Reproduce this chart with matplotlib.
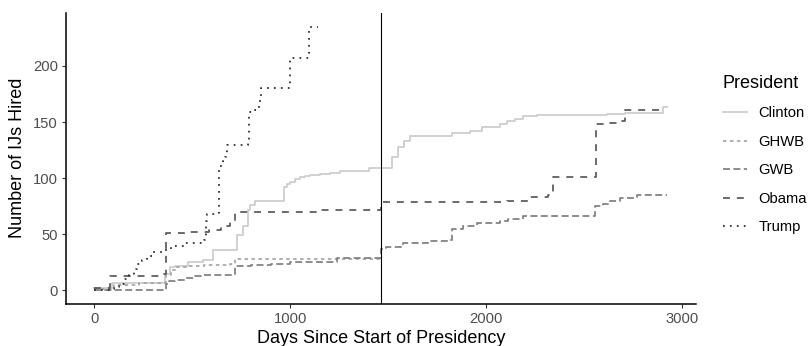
import matplotlib
matplotlib.use("Agg")
import matplotlib.pyplot as plt

plt.rcParams['font.family'] = ['Liberation Sans', 'DejaVu Sans']

# Cumulative immigration judges hired, by days since inauguration
clinton_days = [0, 90, 361, 386, 412, 480, 556, 607, 730, 760, 783, 795, 820, 969, 981, 998,
                1024, 1049, 1075, 1100, 1152, 1202, 1253, 1403, 1517, 1551, 1580, 1611, 1823,
                1917, 1976, 2070, 2104, 2146, 2189, 2257, 2614, 2708, 2903, 2922]
clinton_hired = [2, 7, 15, 21, 22, 25, 27, 36, 49, 57, 72, 76, 80, 92, 95, 97,
                 99, 101, 102, 103, 104, 105, 106, 109, 119, 128, 133, 138, 140,
                 142, 146, 148, 151, 153, 155, 156, 157, 158, 163, 163]

ghwb_days = [0, 100, 230, 367, 390, 420, 480, 560, 690, 717, 1461]
ghwb_hired = [1, 5, 7, 14, 18, 21, 22, 23, 24, 28, 28]

gwb_days = [0, 367, 380, 410, 461, 512, 546, 717, 800, 900, 1000, 1240, 1461, 1490, 1577,
            1700, 1806, 1823, 1883, 1951, 2070, 2112, 2189, 2555, 2597, 2631, 2682, 2767, 2922]
gwb_hired = [0, 6, 8, 9, 11, 13, 14, 22, 23, 24, 25, 29, 37, 39, 42,
             44, 45, 55, 57, 60, 62, 64, 66, 75, 77, 80, 82, 85, 85]

obama_days = [0, 80, 333, 367, 478, 586, 648, 690, 717, 1150, 1461, 2104, 2223, 2316, 2340,
              2557, 2631, 2691, 2708, 2897]
obama_hired = [2, 13, 15, 51, 52, 54, 57, 61, 70, 72, 79, 80, 83, 85, 101,
               148, 149, 151, 161, 161]

trump_days = [0, 85, 100, 125, 150, 175, 200, 220, 245, 270, 300, 360, 390, 455, 560, 571,
              575, 638, 655, 667, 675, 786, 790, 811, 840, 846, 850, 1000, 1095, 1143]
trump_hired = [0, 1, 3, 6, 10, 14, 19, 24, 27, 31, 34, 36, 40, 42, 45, 62,
               68, 111, 115, 119, 130, 133, 159, 161, 166, 172, 180, 207, 235, 235]

presidents = ["Clinton", "GHWB", "GWB", "Obama", "Trump"]
first_term_end = 1461

series = {
    "Clinton": (clinton_days, clinton_hired),
    "GHWB": (ghwb_days, ghwb_hired),
    "GWB": (gwb_days, gwb_hired),
    "Obama": (obama_days, obama_hired),
    "Trump": (trump_days, trump_hired),
}
colors = {"Clinton": "#CCCCCC", "GHWB": "#A6A6A6", "GWB": "#7F7F7F",
          "Obama": "#595959", "Trump": "#262626"}
styles = {"Clinton": "-", "GHWB": (0, (2, 2)), "GWB": (0, (4, 2)),
          "Obama": (0, (4, 4)), "Trump": (0, (1, 3))}

fig = plt.figure(figsize=(8.08, 3.46), dpi=100)
ax = fig.add_axes([65.7 / 808, 1 - 303.7 / 346, (695.7 - 65.7) / 808, (303.7 - 12.7) / 346])

lw = 1.25
for name in presidents:
    d, h = series[name]
    ax.step(d, h, where="post", color=colors[name], linestyle=styles[name],
            linewidth=lw, label=name)

ax.axvline(first_term_end, color="black", linewidth=0.8)

# ggplot-style 5% expansion around the data range
ax.set_xlim(-146, 3068)
ax.set_ylim(-11.8, 247.4)
ax.set_xticks([0, 1000, 2000, 3000])
ax.set_yticks([0, 50, 100, 150, 200])

for s in ["top", "right"]:
    ax.spines[s].set_visible(False)
for s in ["left", "bottom"]:
    ax.spines[s].set_linewidth(1.1)
    ax.spines[s].set_color("black")
ax.tick_params(axis="both", length=3.2, width=0.8, color="#333333",
               labelcolor="#4D4D4D", labelsize=10.6, pad=2.5)

ax.set_xlabel("Days Since Start of Presidency", fontsize=13, labelpad=3)
ax.set_ylabel("Number of IJs Hired", fontsize=13, labelpad=5)

leg = fig.legend(loc="upper left", bbox_to_anchor=(723 / 808, 1 - 75 / 346),
                 title="President", frameon=False, fontsize=10.6, title_fontsize=13,
                 handlelength=1.6, handletextpad=0.8, labelspacing=0.98,
                 borderaxespad=0, borderpad=0)
leg._legend_box.align = "left"

fig.savefig("out.png", dpi=100)
